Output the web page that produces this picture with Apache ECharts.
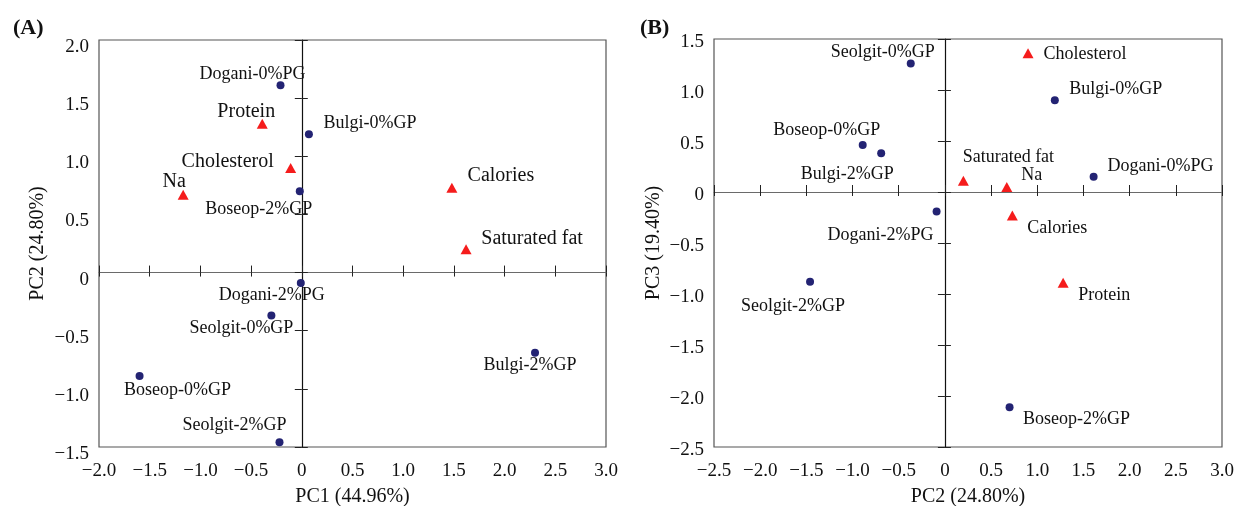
<!DOCTYPE html>
<html lang="en">
<head>
    <meta charset="UTF-8">
    <title>PCA biplots</title>
    <script src="https://cdn.jsdelivr.net/npm/echarts@6/dist/echarts.min.js"></script>
    <style>
        body, html {
            margin: 0;
            padding: 0;
            width: 100%;
            height: 100%;
            overflow: hidden;
            background-color: #fff;
        }
        #container {
            width: 1234px;
            height: 506px;
        }
    </style>
</head>
<body>
    <div id="container"></div>
    <script>
        // samples (blue dots)
        var sampleNames = ['Dogani-0%PG', 'Dogani-2%PG', 'Bulgi-0%GP', 'Bulgi-2%GP',
                           'Boseop-0%GP', 'Boseop-2%GP', 'Seolgit-0%GP', 'Seolgit-2%GP'];
        var samplePC1 = [-0.21, -0.01, 0.07, 2.30, -1.60, -0.02, -0.30, -0.22];
        var samplePC2 = [1.61, -0.09, 1.19, -0.69, -0.89, 0.70, -0.37, -1.46];
        var samplePC3 = [0.15, -0.19, 0.90, 0.38, 0.46, -2.11, 1.26, -0.88];

        // nutrient variables (red triangles)
        var varNames = ['Protein', 'Cholesterol', 'Na', 'Calories', 'Saturated fat'];
        var varPC1 = [-0.39, -0.11, -1.17, 1.48, 1.62];
        var varPC2 = [1.28, 0.90, 0.67, 0.73, 0.20];
        var varPC3 = [-0.89, 1.36, 0.05, -0.23, 0.11];

        // axis ranges / ticks
        var axisA = { xMin: -2, xMax: 3, yMin: -1.5, yMax: 2, step: 0.5 };
        var axisB = { xMin: -2.5, xMax: 3, yMin: -2.5, yMax: 1.5, step: 0.5 };

        // label placement (pixels from the marker centre)
        var labelOffA = {
            'Dogani-0%PG': [-28, -11], 'Dogani-2%PG': [-29, 12], 'Bulgi-0%GP': [61, -11],
            'Bulgi-2%GP': [-5, 12], 'Boseop-0%GP': [38, 14], 'Boseop-2%GP': [-41, 18],
            'Seolgit-0%GP': [-30, 13], 'Seolgit-2%GP': [-45, -17],
            'Protein': [-16, -12], 'Cholesterol': [-63, -6], 'Na': [-9, -13],
            'Calories': [49, -12], 'Saturated fat': [66, -11]
        };
        var labelOffB = {
            'Dogani-0%PG': [67, -10], 'Dogani-2%PG': [-56, 24], 'Bulgi-0%GP': [61, -11],
            'Bulgi-2%GP': [-34, 21], 'Boseop-0%GP': [-36, -15], 'Boseop-2%GP': [67, 12],
            'Seolgit-0%GP': [-28, -11], 'Seolgit-2%GP': [-17, 25],
            'Protein': [41, 12], 'Cholesterol': [57, 1], 'Na': [25, -12],
            'Calories': [45, 13], 'Saturated fat': [45, -24]
        };

        var FONT = 'Liberation Serif';
        var DOT = '#232373';
        var TRI = '#f51c1c';

        function tickFmt(v) {
            if (Math.abs(v) < 1e-9) return '0';
            return (v < 0 ? '\u2212' : '') + Math.abs(v).toFixed(1);
        }

        function points(names, xs, ys, offs, size) {
            return names.map(function (n, i) {
                return {
                    name: n,
                    value: [xs[i], ys[i]],
                    label: { offset: offs[n], fontSize: size }
                };
            });
        }

        // three axes per dimension: labelled one on the frame + two on zero (ticks both sides)
        function xAxes(grid, r, name, yBase) {
            var base = { gridIndex: grid, type: 'value', min: r.xMin, max: r.xMax, interval: r.step, splitLine: { show: false } };
            return [
                Object.assign({}, base, {
                    position: 'bottom',
                    name: name, nameLocation: 'middle', nameGap: 40,
                    nameTextStyle: { fontFamily: FONT, fontSize: 20, color: '#111' },
                    axisLine: { show: false, onZero: false },
                    axisTick: { show: false },
                    axisLabel: { fontFamily: FONT, fontSize: 19, color: '#111', margin: 15, formatter: tickFmt }
                }),
                Object.assign({}, base, {
                    position: 'bottom',
                    axisLine: { show: true, onZero: true, onZeroAxisIndex: yBase, lineStyle: { color: '#6a6a6a', width: 1.2 } },
                    axisTick: { show: true, inside: true, length: 7, lineStyle: { color: '#222' } },
                    axisLabel: { show: false }
                }),
                Object.assign({}, base, {
                    position: 'bottom',
                    axisLine: { show: false, onZero: true, onZeroAxisIndex: yBase + 1 },
                    axisTick: { show: true, inside: false, length: 4, lineStyle: { color: '#222' } },
                    axisLabel: { show: false }
                })
            ];
        }

        function yAxes(grid, r, name, xBase, gap, lh) {
            var base = { gridIndex: grid, type: 'value', min: r.yMin, max: r.yMax, interval: r.step, splitLine: { show: false } };
            return [
                Object.assign({}, base, {
                    position: 'left',
                    name: name, nameLocation: 'middle', nameGap: gap,
                    nameTextStyle: { fontFamily: FONT, fontSize: 20, color: '#111' },
                    axisLine: { show: false, onZero: false },
                    axisTick: { show: false },
                    axisLabel: {
                        fontFamily: FONT, fontSize: 19, color: '#111', margin: 10, formatter: tickFmt,
                        verticalAlign: 'top', lineHeight: lh
                    }
                }),
                Object.assign({}, base, {
                    position: 'left',
                    axisLine: { show: true, onZero: true, onZeroAxisIndex: xBase, lineStyle: { color: '#111', width: 1.2 } },
                    axisTick: { show: true, inside: false, length: 7, lineStyle: { color: '#222' } },
                    axisLabel: { show: false }
                }),
                Object.assign({}, base, {
                    position: 'left',
                    axisLine: { show: false, onZero: true, onZeroAxisIndex: xBase + 1 },
                    axisTick: { show: true, inside: true, length: 6, lineStyle: { color: '#222' } },
                    axisLabel: { show: false }
                })
            ];
        }

        function scatter(xi, yi, data, symbol, size, color) {
            return {
                type: 'scatter',
                xAxisIndex: xi,
                yAxisIndex: yi,
                symbol: symbol,
                symbolSize: size,
                itemStyle: { color: color, opacity: 1 },
                label: {
                    show: true,
                    position: 'inside',
                    formatter: '{b}',
                    fontFamily: FONT,
                    color: '#111'
                },
                emphasis: { disabled: true },
                data: data
            };
        }

        var option = {
            backgroundColor: '#fff',
            animation: false,
            title: [
                { text: '(A)', left: 8, top: 12, textStyle: { fontFamily: FONT, fontSize: 22, fontWeight: 'bold', color: '#111' } },
                { text: '(B)', left: 635, top: 12, textStyle: { fontFamily: FONT, fontSize: 22, fontWeight: 'bold', color: '#111' } }
            ],
            grid: [
                { left: 99, top: 40, width: 507, height: 407, show: true, borderColor: '#555', borderWidth: 1.2, outerBoundsMode: 'none' },
                { left: 714, top: 39, width: 508, height: 408, show: true, borderColor: '#555', borderWidth: 1.2, outerBoundsMode: 'none' }
            ],
            xAxis: xAxes(0, axisA, 'PC1 (44.96%)', 0).concat(xAxes(1, axisB, 'PC2 (24.80%)', 3)),
            yAxis: yAxes(0, axisA, 'PC2 (24.80%)', 0, 51, 14).concat(yAxes(1, axisB, 'PC3 (19.40%)', 3, 50, 7)),
            series: [
                scatter(0, 0, points(sampleNames, samplePC1, samplePC2, labelOffA, 18), 'circle', 8, DOT),
                scatter(0, 0, points(varNames, varPC1, varPC2, labelOffA, 20), 'triangle', [11, 10], TRI),
                scatter(3, 3, points(sampleNames, samplePC2, samplePC3, labelOffB, 18), 'circle', 8, DOT),
                scatter(3, 3, points(varNames, varPC2, varPC3, labelOffB, 18), 'triangle', [11, 10], TRI)
            ]
        };

        var chart = echarts.init(document.getElementById('container'));
        chart.setOption(option);
    </script>
</body>
</html>
